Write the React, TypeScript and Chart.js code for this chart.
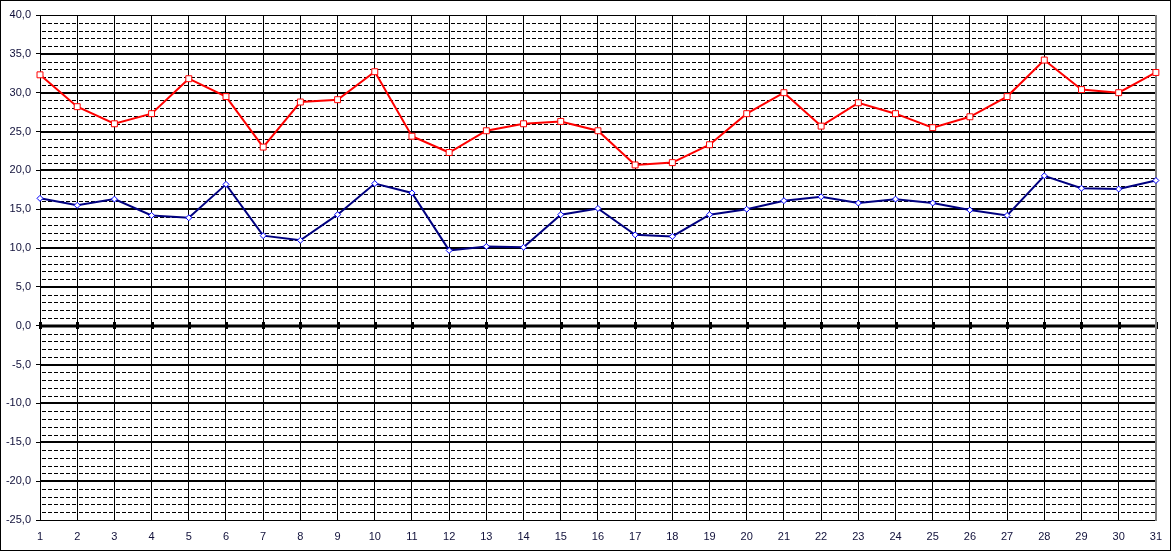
import React, { useEffect, useRef } from "react";
import { Chart, registerables } from "chart.js";

Chart.register(...registerables);

const days = ["1","2","3","4","5","6","7","8","9","10","11","12","13","14","15","16","17","18","19","20","21","22","23","24","25","26","27","28","29","30","31"];

const maxTemp = [32.3, 28.2, 26.0, 27.3, 31.8, 29.5, 23.0, 28.8, 29.1, 32.7, 24.4, 22.3, 25.1, 26.0, 26.3, 25.1, 20.7, 21.0, 23.3, 27.3, 30.0, 25.7, 28.7, 27.3, 25.5, 26.9, 29.5, 34.2, 30.4, 30.0, 32.6];

const minTemp = [16.4, 15.5, 16.3, 14.2, 13.9, 18.2, 11.6, 11.0, 14.3, 18.3, 17.1, 9.7, 10.2, 10.1, 14.3, 15.1, 11.7, 11.5, 14.3, 15.0, 16.1, 16.6, 15.8, 16.3, 15.8, 14.9, 14.2, 19.3, 17.7, 17.6, 18.7];

const Y_MIN = -25;
const Y_MAX = 40;
const MAJOR_STEP = 5;
const MINOR_STEP = 1;

const FONT_FAMILY = 'Arial, "Liberation Sans", sans-serif';
const TEXT_COLOR = "#10103a";

const gridPlugin = {
  id: "excelGrid",
  beforeDatasetsDraw(chart: any) {
    const { ctx, chartArea: a, scales } = chart;
    const ys = scales.y;
    const xs = scales.x;
    ctx.save();
    // minor dashed lines, dash pattern restarting in every cell
    ctx.strokeStyle = "#000";
    ctx.lineWidth = 1;
    ctx.setLineDash([4, 2]);
    for (let v = Y_MIN; v <= Y_MAX; v += MINOR_STEP) {
      if (v % MAJOR_STEP === 0) continue;
      const py = Math.round(ys.getPixelForValue(v)) + 0.5;
      for (let i = 0; i < days.length - 1; i++) {
        const x1 = Math.round(xs.getPixelForValue(i)) + 2;
        const x2 = Math.round(xs.getPixelForValue(i + 1));
        ctx.beginPath();
        ctx.moveTo(x1, py);
        ctx.lineTo(x2, py);
        ctx.stroke();
      }
    }
    ctx.setLineDash([]);
    // major lines
    for (let v = Y_MIN; v <= Y_MAX; v += MAJOR_STEP) {
      if (v === 0) continue;
      const edge = v === Y_MIN || v === Y_MAX;
      const raw = ys.getPixelForValue(v);
      ctx.lineWidth = edge ? 1 : 2;
      const py = edge ? Math.round(raw) + 0.5 : Math.round(raw);
      ctx.beginPath();
      ctx.moveTo(a.left, py);
      ctx.lineTo(a.right, py);
      ctx.stroke();
    }
    // zero line with tick marks
    const y0 = ys.getPixelForValue(0);
    ctx.fillStyle = "#000";
    ctx.fillRect(a.left, Math.round(y0) - 1.5, a.right - a.left, 3);
    for (let i = 0; i < days.length; i++) {
      const px = Math.round(xs.getPixelForValue(i));
      ctx.fillRect(px - 1, Math.round(y0) - 4, 3, 7);
    }
    // right border gray
    ctx.fillStyle = "#808080";
    ctx.fillRect(Math.round(a.right) - 1, a.top, 2, a.bottom - a.top + 1);
    ctx.restore();
  },
  afterDraw(chart: any) {
    const { ctx } = chart;
    ctx.save();
    ctx.strokeStyle = "#000";
    ctx.lineWidth = 1;
    ctx.strokeRect(0.5, 0.5, 1170, 550);
    ctx.restore();
  },
};

export default function App() {
  const ref = useRef<HTMLCanvasElement | null>(null);

  useEffect(() => {
    document.body.style.margin = "0";
    const canvas = ref.current;
    if (!canvas) return;
    const chart = new Chart(canvas, {
      type: "line",
      data: {
        labels: days,
        datasets: [
          {
            label: "min",
            data: minTemp,
            borderColor: "#000080",
            borderWidth: 2,
            pointStyle: "rectRot",
            pointRadius: 3,
            pointBorderWidth: 1,
            pointBorderColor: "#0000ff",
            pointBackgroundColor: "#ffffff",
            tension: 0,
          },
          {
            label: "max",
            data: maxTemp,
            borderColor: "#ff0000",
            borderWidth: 2,
            pointStyle: "rect",
            pointRadius: 4.2,
            pointBorderWidth: 1,
            pointBorderColor: "#ff0000",
            pointBackgroundColor: "#ffffff",
            tension: 0,
          },
        ],
      },
      options: {
        responsive: false,
        animation: false,
        devicePixelRatio: 1,
        layout: { padding: { top: 15, right: 16, left: 0, bottom: 0 } },
        plugins: {
          legend: { display: false },
          tooltip: { enabled: false },
        },
        scales: {
          x: {
            type: "category",
            offset: false,
            grid: {
              color: "#000",
              lineWidth: 1,
              drawTicks: false,
              offset: false,
            },
            border: { display: true, color: "#000", width: 1 },
            ticks: {
              color: TEXT_COLOR,
              font: { family: FONT_FAMILY, size: 11 },
              padding: 10,
              maxRotation: 0,
              autoSkip: false,
            },
            afterFit: (s: any) => {
              s.height = 32;
            },
          },
          y: {
            type: "linear",
            min: Y_MIN,
            max: Y_MAX,
            grid: {
              drawOnChartArea: false,
              drawTicks: true,
              tickLength: 4,
              tickColor: "#000",
              tickWidth: 1,
            },
            border: { display: true, color: "#000", width: 1 },
            ticks: {
              stepSize: MAJOR_STEP,
              color: TEXT_COLOR,
              font: { family: FONT_FAMILY, size: 11 },
              padding: 5,
              callback: (v: any) => Number(v).toFixed(1).replace(".", ","),
            },
            afterFit: (s: any) => {
              s.width = 40;
            },
          },
        },
      },
      plugins: [gridPlugin],
    });
    return () => chart.destroy();
  }, []);

  return (
    <div style={{ width: 1172, height: 552, background: "#fff" }}>
      <canvas ref={ref} width={1172} height={552} style={{ display: "block", width: 1172, height: 552 }} />
    </div>
  );
}
